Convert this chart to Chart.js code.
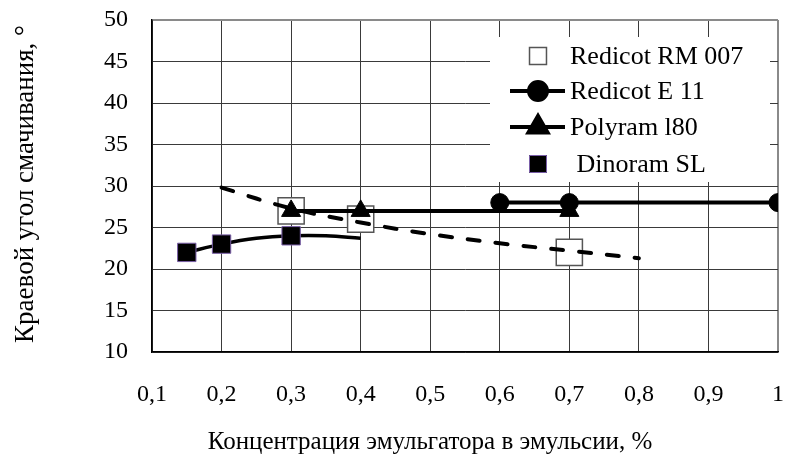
<!DOCTYPE html>
<html>
<head>
<meta charset="utf-8">
<script src="https://cdn.jsdelivr.net/npm/chart.js@4.4.1/dist/chart.umd.min.js"></script>
<style>
  html, body { margin: 0; padding: 0; background: #ffffff; }
  #wrap { position: relative; width: 786px; height: 455px; }
</style>
</head>
<body>
<div id="wrap"><canvas id="chart" width="786" height="455"></canvas></div>
<script>
// Axis ticks
const xTicks = [0.1, 0.2, 0.3, 0.4, 0.5, 0.6, 0.7, 0.8, 0.9, 1.0];
const xTickLabels = ['0,1', '0,2', '0,3', '0,4', '0,5', '0,6', '0,7', '0,8', '0,9', '1'];
const yTicks = [10, 15, 20, 25, 30, 35, 40, 45, 50];
const yTickLabels = ['10', '15', '20', '25', '30', '35', '40', '45', '50'];

// Axis titles
const xTitle = 'Концентрация эмульгатора в эмульсии, %';
const yTitle = 'Краевой угол смачивания, °';

// Redicot RM 007 (measured points and its trend curve)
const rm007X = [0.3, 0.4, 0.7];
const rm007Y = [27, 26, 22];
const rm007TrendX = [0.2, 0.3, 0.4, 0.5, 0.6, 0.7, 0.8];
const rm007TrendY = [29.8, 27.3, 25.6, 24.2, 23.1, 22.2, 21.3];

// Redicot E 11
const e11X = [0.6, 0.7, 1.0];
const e11Y = [28, 28, 28];

// Polyram l80
const polyramX = [0.3, 0.4, 0.7];
const polyramY = [27, 27, 27];

// Dinoram SL (measured points and its trend curve)
const dinoramX = [0.15, 0.2, 0.3];
const dinoramY = [22, 23, 24];
const dinoramTrendX = [0.15, 0.2, 0.25, 0.3, 0.35, 0.4];
const dinoramTrendY = [22, 23, 23.7, 24, 24, 23.7];

const pairs = (xs, ys) => xs.map((x, i) => ({ x: x, y: ys[i] }));

const SERIF = '"Liberation Serif", "Times New Roman", serif';

const datasets = [
  {
    label: 'Redicot E 11',
    data: pairs(e11X, e11Y),
    showLine: true,
    borderColor: '#000',
    borderWidth: 4,
    pointStyle: 'circle',
    pointRadius: 9,
    pointBackgroundColor: '#000',
    pointBorderColor: '#000',
    pointBorderWidth: 1,
    order: 1
  },
  {
    label: 'Polyram l80',
    data: pairs(polyramX, polyramY),
    showLine: true,
    borderColor: '#000',
    borderWidth: 4,
    pointStyle: 'triangle',
    pointRadius: 11,
    pointBackgroundColor: '#000',
    pointBorderColor: '#000',
    pointBorderWidth: 1,
    order: 2
  },
  {
    label: 'Dinoram SL',
    data: pairs(dinoramX, dinoramY),
    showLine: false,
    pointStyle: 'rect',
    pointRadius: 13,
    pointBackgroundColor: '#000',
    pointBorderColor: '#7a5fa8',
    pointBorderWidth: 1,
    order: 3
  },
  {
    label: 'Dinoram SL trend',
    data: pairs(dinoramTrendX, dinoramTrendY),
    showLine: true,
    borderColor: '#000',
    borderWidth: 3.5,
    tension: 0.4,
    pointRadius: 0,
    order: 4
  },
  {
    label: 'Redicot RM 007 trend',
    data: pairs(rm007TrendX, rm007TrendY),
    showLine: true,
    borderColor: '#000',
    borderWidth: 4,
    borderDash: [12, 16],
    borderCapStyle: 'round',
    tension: 0.4,
    pointRadius: 0,
    order: 5
  },
  {
    label: 'Redicot RM 007',
    data: pairs(rm007X, rm007Y),
    showLine: false,
    pointStyle: 'rect',
    pointRadius: 18.5,
    pointBackgroundColor: '#fff',
    pointBorderColor: '#555',
    pointBorderWidth: 1.5,
    order: 6
  }
];

// Legend rows, top to bottom: dataset index, line sample, marker radius
const legendRows = [
  { ds: 5, line: false, marker: 12 },
  { ds: 0, line: true, marker: 9 },
  { ds: 1, line: true, marker: 11 },
  { ds: 2, line: false, marker: 12 }
];

// Legend drawn inside the plot, on a white panel over the grid
const insideLegend = {
  id: 'insideLegend',
  afterDraw(chart) {
    const { ctx, chartArea: a } = chart;
    const boxL = a.left + 338, boxR = a.right - 8;
    const boxT = a.top + 17, boxB = a.top + 162;
    ctx.save();
    ctx.fillStyle = '#fff';
    ctx.fillRect(boxL, boxT, boxR - boxL, boxB - boxT);
    const rowY = [a.top + 36, a.top + 71, a.top + 107, a.top + 144];
    const mx = a.left + 386;
    legendRows.forEach((row, i) => {
      const d = chart.data.datasets[row.ds];
      const y = rowY[i];
      if (row.line) {
        ctx.strokeStyle = '#000';
        ctx.lineWidth = 4;
        ctx.beginPath();
        ctx.moveTo(mx - 28, y);
        ctx.lineTo(mx + 27, y);
        ctx.stroke();
      }
      Chart.helpers.drawPoint(ctx, {
        pointStyle: d.pointStyle,
        radius: row.marker,
        rotation: 0,
        borderWidth: d.pointBorderWidth
      }, mx, y);
      ctx.fillStyle = d.pointBackgroundColor;
      ctx.strokeStyle = d.pointBorderColor;
      ctx.lineWidth = d.pointBorderWidth;
      ctx.fill();
      ctx.stroke();
      ctx.fillStyle = '#000';
      ctx.font = '26px ' + SERIF;
      ctx.textAlign = 'left';
      ctx.textBaseline = 'middle';
      const label = d.label === 'Dinoram SL' ? ' ' + d.label : d.label;
      ctx.fillText(label, a.left + 418, y + 1);
    });
    ctx.restore();
  }
};

// Axis titles
const axisTitles = {
  id: 'axisTitles',
  afterDraw(chart) {
    const { ctx, chartArea: a } = chart;
    ctx.save();
    ctx.fillStyle = '#000';
    ctx.textAlign = 'center';
    ctx.textBaseline = 'middle';
    ctx.font = '25px ' + SERIF;
    ctx.fillText(xTitle, a.left + 278, a.bottom + 90);
    ctx.translate(26, (a.top + a.bottom) / 2 - 2);
    ctx.rotate(-Math.PI / 2);
    ctx.font = '27px ' + SERIF;
    ctx.fillText(yTitle, 0, 0);
    ctx.restore();
  }
};

new Chart(document.getElementById('chart'), {
  type: 'scatter',
  data: { datasets: datasets },
  options: {
    responsive: false,
    animation: false,
    events: [],
    layout: { autoPadding: false, padding: { left: 0, right: 8, top: 20, bottom: 0 } },
    plugins: {
      legend: { display: false },
      tooltip: { enabled: false }
    },
    scales: {
      x: {
        type: 'linear',
        min: 0.1,
        max: 1.0,
        afterBuildTicks: (s) => { s.ticks = xTicks.map(v => ({ value: v })); },
        afterFit: (s) => { s.height = 103; },
        ticks: {
          autoSkip: false,
          maxRotation: 0,
          padding: 0,
          color: '#000',
          font: { family: SERIF, size: 24 },
          callback: (v, i) => xTickLabels[i]
        },
        grid: {
          drawTicks: true,
          tickLength: 28,
          tickColor: 'rgba(0,0,0,0)',
          color: (c) => (c.tick && c.tick.value >= 0.999 ? '#8a8a8a' : '#3a3a3a'),
          lineWidth: (c) => (c.tick && c.tick.value >= 0.999 ? 2 : 1)
        },
        border: { display: true, color: '#000', width: 1.5 }
      },
      y: {
        type: 'linear',
        min: 10,
        max: 50,
        afterBuildTicks: (s) => { s.ticks = yTicks.map(v => ({ value: v })); },
        afterFit: (s) => { s.width = 152; },
        ticks: {
          padding: 0,
          color: '#000',
          font: { family: SERIF, size: 24 },
          callback: (v, i) => yTickLabels[i]
        },
        grid: {
          drawTicks: true,
          tickLength: 24,
          tickColor: 'rgba(0,0,0,0)',
          color: (c) => (c.tick && c.tick.value >= 50 ? '#8a8a8a' : '#3a3a3a'),
          lineWidth: (c) => (c.tick && c.tick.value >= 50 ? 2 : 1)
        },
        border: { display: true, color: '#000', width: 1.5 }
      }
    }
  },
  plugins: [insideLegend, axisTitles]
});
</script>
</body>
</html>
